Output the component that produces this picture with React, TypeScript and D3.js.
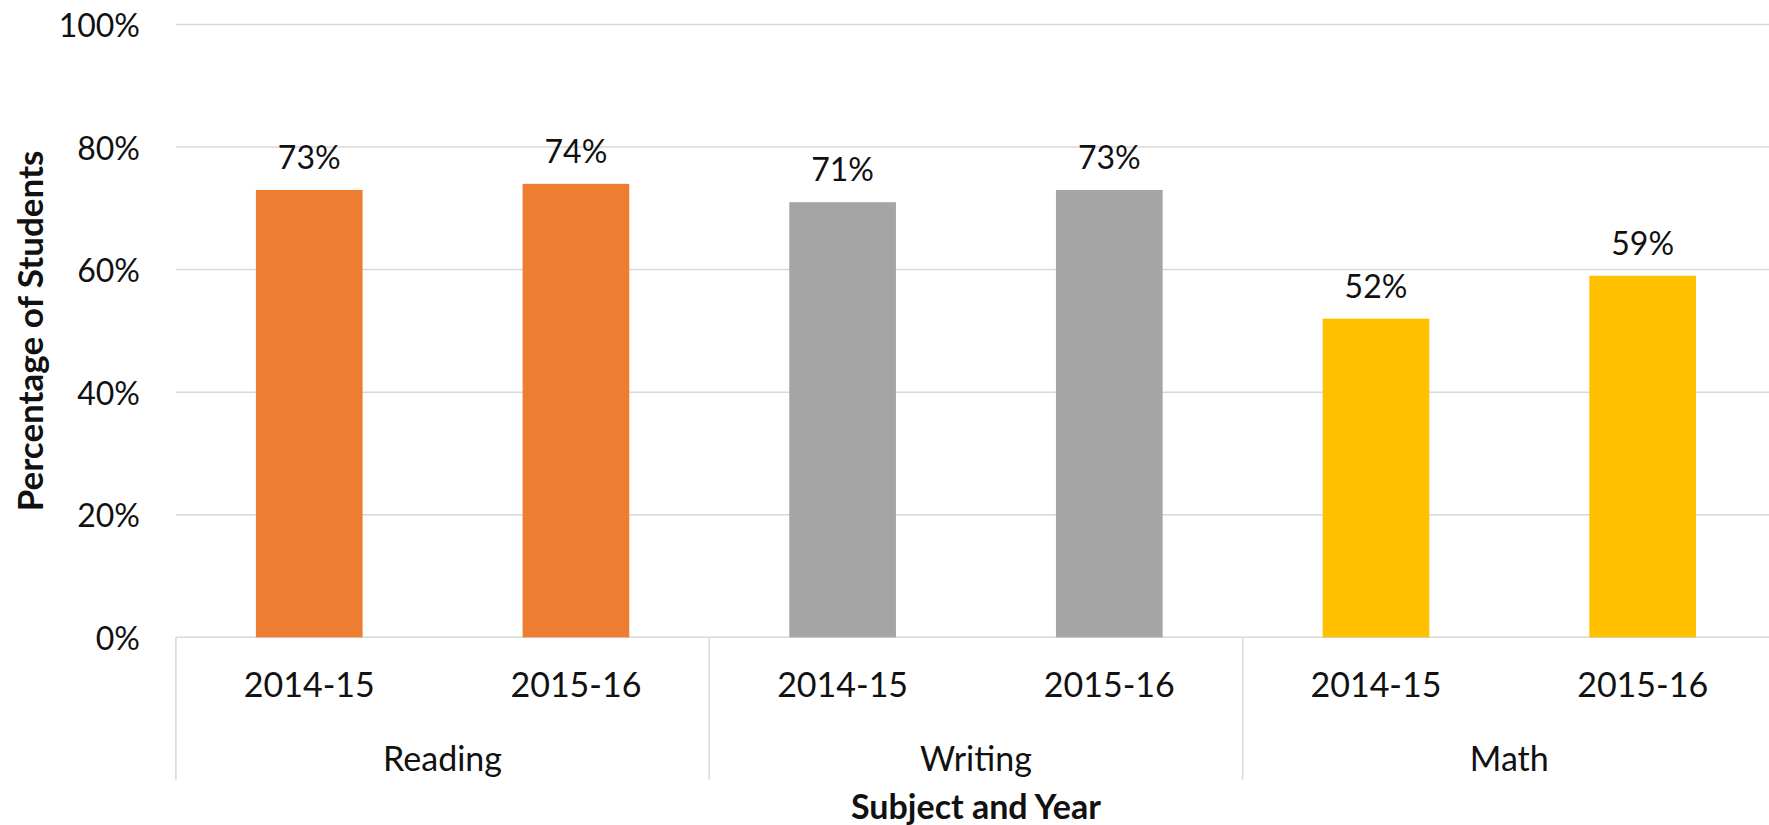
import React from "react";
import * as d3 from "d3";

const subjects = ["Reading", "Writing", "Math"];
const years = ["2014-15", "2015-16"];
const readingValues = [0.73, 0.74];
const writingValues = [0.71, 0.73];
const mathValues = [0.52, 0.59];
const subjectColors = ["#ED7D31", "#A5A5A5", "#FFC000"];
const yTicks = [0, 0.2, 0.4, 0.6, 0.8, 1.0];

const W = 1769;
const H = 825;
const FONT = "Lato, 'Open Sans', 'DejaVu Sans', sans-serif";

export default function App() {
  const valuesBySubject = [readingValues, writingValues, mathValues];
  const left = 175.9;
  const right = 1776;
  const yBase = 637.3;
  const yTop = 24.5;

  const y = d3.scaleLinear().domain([0, 1]).range([yBase, yTop]);
  const xOuter = d3.scaleBand<string>().domain(subjects).range([left, right]).padding(0);
  const xInner = d3
    .scaleBand<string>()
    .domain(years)
    .range([0, xOuter.bandwidth()])
    .paddingInner(0.6)
    .paddingOuter(0.3);

  const fmt = d3.format(".0%");
  const textColor = "#111";
  const gridColor = "#d9d9d9";

  return (
    <svg
      width={W}
      height={H}
      style={{ position: "absolute", left: 0, top: 0, background: "#fff" }}
      fontFamily={FONT}
    >
      <rect x={0} y={0} width={W} height={H} fill="#fff" />
      {yTicks.map((t) => (
        <g key={t}>
          {t > 0 && (
            <line x1={left} x2={right} y1={y(t)} y2={y(t)} stroke={gridColor} strokeWidth={1.5} />
          )}
          <text
            x={140}
            y={y(t)}
            textAnchor="end"
            dominantBaseline="central"
            fontSize={32}
            fill={textColor}
          >
            {fmt(t)}
          </text>
        </g>
      ))}
      {/* baseline */}
      <line x1={left} x2={right} y1={yBase} y2={yBase} stroke={gridColor} strokeWidth={1.5} />
      {/* group separators */}
      {[...subjects.map((s) => xOuter(s) as number), right].map((xv, i) => (
        <line key={i} x1={xv} x2={xv} y1={yBase} y2={780} stroke={gridColor} strokeWidth={1.5} />
      ))}
      {subjects.map((s, si) => (
        <g key={s} transform={`translate(${xOuter(s)},0)`}>
          {years.map((yr, yi) => {
            const v = valuesBySubject[si][yi];
            const bx = xInner(yr) as number;
            const bw = xInner.bandwidth();
            return (
              <g key={yr}>
                <rect x={bx} y={y(v)} width={bw} height={yBase - y(v)} fill={subjectColors[si]} />
                <text
                  x={bx + bw / 2}
                  y={y(v) - 21}
                  textAnchor="middle"
                  fontSize={32}
                  fill={textColor}
                >
                  {fmt(v)}
                </text>
                <text
                  x={bx + bw / 2}
                  y={697}
                  textAnchor="middle"
                  fontSize={34}
                  fill={textColor}
                >
                  {yr}
                </text>
              </g>
            );
          })}
          <text
            x={xOuter.bandwidth() / 2}
            y={771}
            textAnchor="middle"
            fontSize={34}
            fill={textColor}
          >
            {s}
          </text>
        </g>
      ))}
      <text
        x={(left + right) / 2}
        y={819}
        textAnchor="middle"
        fontSize={34}
        fontWeight="bold"
        fill={textColor}
      >
        Subject and Year
      </text>
      <text
        transform={`translate(43,${(yTop + yBase) / 2}) rotate(-90)`}
        textAnchor="middle"
        fontSize={35}
        fontWeight="bold"
        fill={textColor}
      >
        Percentage of Students
      </text>
    </svg>
  );
}
